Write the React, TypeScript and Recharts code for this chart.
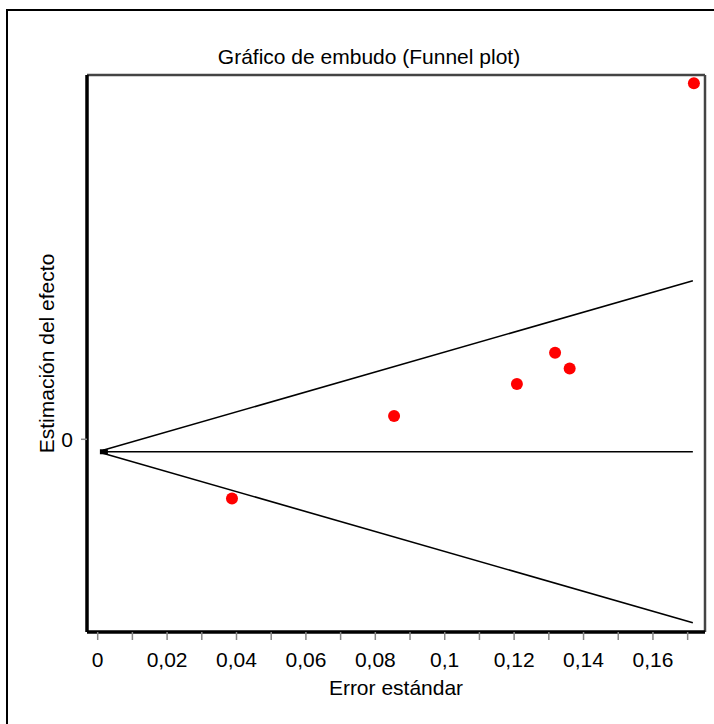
import { ScatterChart, Scatter, XAxis, YAxis, Label, ReferenceLine } from 'recharts'

// standard error (x) and effect estimate (y) of each study
const studySe = [0.0387, 0.0854, 0.1208, 0.1318, 0.136, 0.1718]
const studyEffect = [-0.1163, 0.0458, 0.1086, 0.17, 0.139, 0.6994]

// funnel: pooled effect and 95% limits at both ends
const funnelSe = [0.0015, 0.1715]
const pooledEffect = [-0.0245, -0.0245]
const upperLimit = [-0.0216, 0.3115]
const lowerLimit = [-0.0274, -0.3605]

const xTicks = [0, 0.01, 0.02, 0.03, 0.04, 0.05, 0.06, 0.07, 0.08, 0.09, 0.1, 0.11, 0.12, 0.13, 0.14, 0.15, 0.16, 0.17]
const xTickLabels = ['0', '', '0,02', '', '0,04', '', '0,06', '', '0,08', '', '0,1', '', '0,12', '', '0,14', '', '0,16', '']
const yTicks = [0]
const yTickLabels = ['0']

const X_DOMAIN: [number, number] = [-0.00308, 0.175]
const Y_DOMAIN: [number, number] = [-0.3786, 0.7157]

const FONT = "'Liberation Sans', Arial, sans-serif"

const studies = studySe.map((se, i) => ({ x: se, y: studyEffect[i] }))
const pooled = funnelSe.map((se, i) => ({ x: se, y: pooledEffect[i] }))
const upper = funnelSe.map((se, i) => ({ x: se, y: upperLimit[i] }))
const lower = funnelSe.map((se, i) => ({ x: se, y: lowerLimit[i] }))
const vertex = [pooled[0]]

function XTick(props: any) {
  const { x, y, payload } = props
  const label = xTickLabels[xTicks.indexOf(payload.value)]
  if (!label) return <g />
  return (
    <text x={x} y={y} dy="0.71em" textAnchor="middle" fill="#000" fontSize={21} fontFamily={FONT}>
      {label}
    </text>
  )
}

function YTick(props: any) {
  const { x, y, payload } = props
  const label = yTickLabels[yTicks.indexOf(payload.value)]
  return (
    <text x={x} y={y} dy="0.355em" textAnchor="end" fill="#000" fontSize={21} fontFamily={FONT}>
      {label}
    </text>
  )
}

const RedDot = (props: any) => <circle cx={props.cx} cy={props.cy} r={6} fill="#ff0000" />
const NoDot = () => <g />
const VertexMark = (props: any) => (
  <rect x={props.cx - 3} y={props.cy - 2.5} width={8} height={5} fill="#000" />
)

export default function App() {
  return (
    <div style={{ position: 'absolute', left: 0, top: 0, width: 714, height: 724, background: '#fff', overflow: 'hidden' }}>
      <div
        style={{
          position: 'absolute',
          left: 6,
          top: 9,
          width: 720,
          height: 730,
          borderLeft: '2px solid #000',
          borderTop: '2px solid #000',
          boxSizing: 'border-box',
        }}
      />
      <div
        style={{
          position: 'absolute',
          left: 0,
          top: 44,
          width: 738,
          textAlign: 'center',
          fontFamily: FONT,
          fontSize: 21,
          lineHeight: '26px',
          color: '#000',
        }}
      >
        Gráfico de embudo (Funnel plot)
      </div>
      <div style={{ position: 'absolute', left: 0, top: 0 }}>
        <ScatterChart width={714} height={724} margin={{ top: 75, right: 9, bottom: 32, left: 27 }}>
          <XAxis
            type="number"
            dataKey="x"
            domain={X_DOMAIN}
            allowDataOverflow
            ticks={xTicks}
            interval={0}
            tick={<XTick />}
            tickSize={8}
            tickMargin={12}
            tickLine={{ stroke: '#888', strokeWidth: 1.5 }}
            axisLine={{ stroke: '#000', strokeWidth: 3.5 }}
            height={60}
          >
            <Label
              value="Error estándar"
              position="insideBottom"
              offset={-3}
              style={{ fontSize: 21, fontFamily: FONT, fill: '#000' }}
            />
          </XAxis>
          <YAxis
            type="number"
            dataKey="y"
            domain={Y_DOMAIN}
            allowDataOverflow
            ticks={yTicks}
            tick={<YTick />}
            tickSize={6}
            tickMargin={8}
            tickLine={{ stroke: '#888', strokeWidth: 1.5 }}
            axisLine={{ stroke: '#000', strokeWidth: 3.5 }}
            width={60}
          >
            <Label
              value="Estimación del efecto"
              angle={-90}
              position="insideLeft"
              offset={20}
              style={{ fontSize: 21, fontFamily: FONT, fill: '#000', textAnchor: 'middle' }}
            />
          </YAxis>
          {/* top and right frame of the plot area */}
          <ReferenceLine y={Y_DOMAIN[1]} stroke="#444" strokeWidth={2.5} ifOverflow="visible" />
          <ReferenceLine x={X_DOMAIN[1]} stroke="#444" strokeWidth={2.5} ifOverflow="visible" />
          <Scatter data={upper} line={{ stroke: '#000', strokeWidth: 1.6 }} shape={NoDot} isAnimationActive={false} />
          <Scatter data={lower} line={{ stroke: '#000', strokeWidth: 1.6 }} shape={NoDot} isAnimationActive={false} />
          <Scatter data={pooled} line={{ stroke: '#000', strokeWidth: 1.6 }} shape={NoDot} isAnimationActive={false} />
          <Scatter data={vertex} shape={VertexMark} isAnimationActive={false} />
          <Scatter data={studies} shape={RedDot} isAnimationActive={false} />
        </ScatterChart>
      </div>
    </div>
  )
}
